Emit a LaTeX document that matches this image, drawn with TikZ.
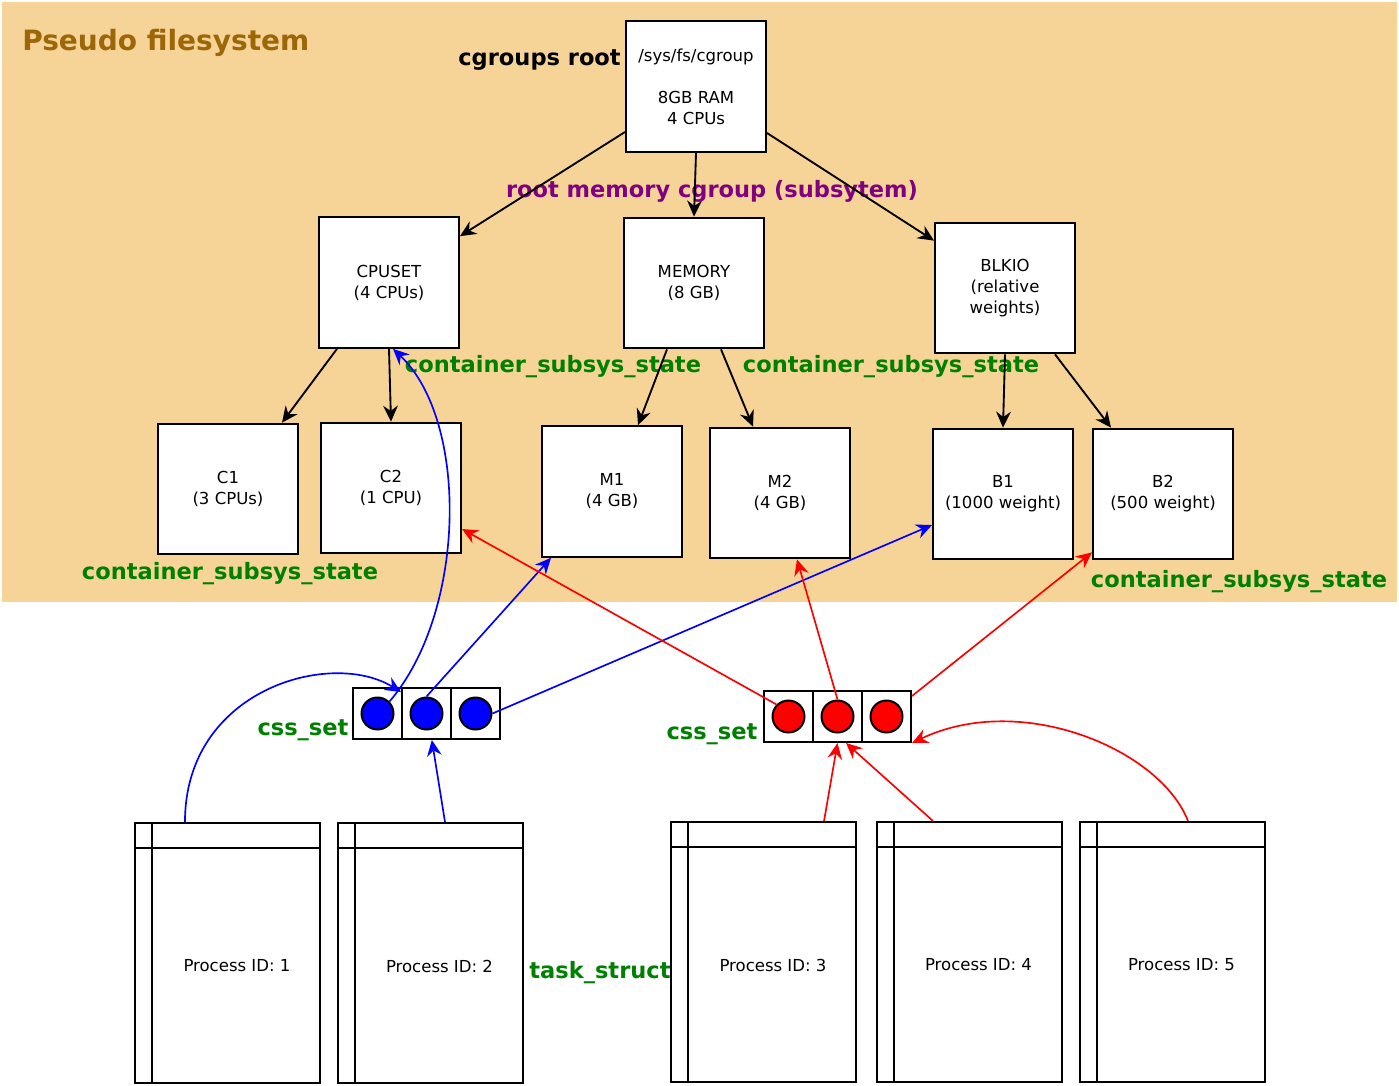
\documentclass[tikz,border=0pt]{standalone}
\usepackage{fontspec}
\setmainfont{DejaVu Sans}
\usetikzlibrary{arrows.meta}
\definecolor{fsBack}{RGB}{246,212,152}
\definecolor{fsTitle}{RGB}{157,103,8}
\definecolor{stateGreen}{RGB}{0,128,0}
\definecolor{rootPurple}{RGB}{128,0,128}
\newcommand{\smallText}{\fontsize{12.4}{15.8}\selectfont}
\newcommand{\labelText}{\fontsize{16.9}{20}\selectfont\bfseries}
\newcommand{\titleText}{\fontsize{21}{25}\selectfont\bfseries}

\begin{document}
\begin{tikzpicture}
[x=0.75pt,y=-0.75pt,
  boxDecorate/.style={shape=rectangle,draw,line width=1.5pt,fill=white,minimum width=105pt,minimum height=98pt,inner sep=0pt,align=center,font=\smallText},%
  procDecorate/.style={shape=rectangle,draw,line width=1.5pt,fill=white,minimum width=138.75pt,minimum height=195pt,inner sep=0pt},%
  cellDecorate/.style={shape=rectangle,draw,line width=1.5pt,fill=white,minimum width=36.75pt,minimum height=38.25pt,inner sep=0pt},%
  dotDecorate/.style={shape=circle,draw,line width=1.5pt,minimum size=24pt,inner sep=0pt},%
  lineDecorate/.style={-{Stealth[length=12pt,width=11pt,inset=4pt]},line width=1.4pt},%
  stateLabel/.style={text=stateGreen,font=\labelText,inner sep=0pt}]
%% background
\useasboundingbox (0,0) rectangle (1399,1085);
\fill[fsBack] (2,2) rectangle (1397,602);
\node (title) at (22,43) [anchor=west,text=fsTitle,font=\titleText,inner sep=0pt] {Pseudo filesystem};
%% cgroup boxes
\node (root) at (696,86.5) [boxDecorate,minimum height=98.25pt] {/sys/fs/cgroup\\~\\8GB RAM\\4 CPUs};
\foreach \nodename/\x/\y/\txt in {
  cpuset/389/282.5/{CPUSET\\(4 CPUs)}, memory/694/283/{MEMORY\\(8 GB)},
  blkio/1005/288/{BLKIO\\(relative\\weights)},
  c1/228/489/{C1\\(3 CPUs)}, c2/391/488/{C2\\(1 CPU)},
  m1/612/491.5/{M1\\(4 GB)}, m2/780/493/{M2\\(4 GB)},
  b1/1003/494/{B1\\(1000 weight)}, b2/1163/494/{B2\\(500 weight)}}
{
  \node (\nodename) at (\x,\y) [boxDecorate] {\txt};
}
%% labels
\node (rootlabel) at (621,60) [anchor=east,font=\labelText,inner sep=0pt] {cgroups root};
\node (memlabel) at (712,191) [text=rootPurple,font=\labelText,inner sep=0pt] {root memory cgroup (subsytem)};
\foreach \nodename/\x/\y/\txt in {
  state1/553/367/container\_subsys\_state, state2/891/367/container\_subsys\_state,
  state3/230/574/container\_subsys\_state, state4/1239/582/container\_subsys\_state,
  cssleft/303/730/css\_set, cssright/712/734/css\_set, task/600/973/task\_struct}
{
  \node (\nodename) at (\x,\y) [stateLabel] {\txt};
}
%% css_set cells
\foreach \nodename/\x/\y/\c in {
  lc1/377.5/713.5/blue, lc2/426.5/713.5/blue, lc3/475.5/713.5/blue,
  rc1/788.5/716.5/red, rc2/837.5/716.5/red, rc3/886.5/716.5/red}
{
  \node (\nodename) at (\x,\y) [cellDecorate] {};
  \node (\nodename dot) at (\nodename.center) [dotDecorate,fill=\c] {};
}
%% task_struct boxes
\foreach \nodename/\x/\y/\pid in {
  p1/227.5/953/1, p2/430/953/2, p3/763.5/952/3, p4/969/952/4, p5/1172/952/5}
{
  \node (\nodename) at (\x,\y) [procDecorate] {};
  \draw[line width=1.5pt] ([xshift=13.5pt]\nodename.north west) -- ([xshift=13.5pt]\nodename.south west);
  \draw[line width=1.5pt] ([yshift=-19.5pt]\nodename.north west) -- ([yshift=-19.5pt]\nodename.north east);
  \node (\nodename text) at ([xshift=7.1pt,yshift=-9.75pt]\nodename.center) [font=\smallText] {Process ID: \pid};
}
%% hierarchy
\draw[lineDecorate] ([yshift=15.75pt]root.south west) -- ([yshift=-15pt]cpuset.north east);
\draw[lineDecorate] (root.south) -- (memory.north);
\draw[lineDecorate] ([yshift=15pt]root.south east) -- ([yshift=-14.25pt]blkio.north west);
\draw[lineDecorate] ([xshift=14.25pt]cpuset.south west) -- ([xshift=-12.75pt]c1.north east);
\draw[lineDecorate] (cpuset.south) -- (c2.north);
\draw[lineDecorate] ([xshift=-20.25pt]memory.south) -- ([xshift=19.5pt]m1.north);
\draw[lineDecorate] ([xshift=20.25pt]memory.south) -- ([xshift=-20.25pt]m2.north);
\draw[lineDecorate] (blkio.south) -- (b1.north);
\draw[lineDecorate] ([xshift=37.5pt]blkio.south) -- ([xshift=-39pt]b2.north);
%% blue css_set
\draw[lineDecorate,blue,line width=1.25pt] (lc1dot.north east) .. controls +(77,-90) and +(76,72) .. ([xshift=3pt]cpuset.south);
\draw[lineDecorate,blue,line width=1.25pt] (lc2dot.north) -- ([xshift=7.5pt]m1.south west);
\draw[lineDecorate,blue,line width=1.25pt] (lc3dot.east) -- ([yshift=-23.25pt]b1.west);
\draw[lineDecorate,blue,line width=1.25pt] ([xshift=-31.9pt]p1.north) .. controls +(0,-133) and +(-70,-43) .. ([xshift=-1.5pt,yshift=-3.75pt]lc1.north east);
\draw[lineDecorate,blue,line width=1.25pt] ([xshift=11.25pt]p2.north) -- ([xshift=4pt]lc2.south);
%% red css_set
\draw[lineDecorate,red,line width=1.25pt] (rc1dot.north west) -- ([yshift=-30.75pt]c2.east);
\draw[lineDecorate,red,line width=1.25pt] (rc2dot.north) -- ([xshift=12.75pt]m2.south);
\draw[lineDecorate,red,line width=1.25pt] ([yshift=-4.5pt]rc3.north east) -- ([yshift=6pt]b2.south west);
\draw[lineDecorate,red,line width=1.25pt] ([xshift=45.4pt]p3.north) -- (rc2.south);
\draw[lineDecorate,red,line width=1.25pt] ([xshift=-27pt]p4.north) -- ([xshift=-12.75pt]rc2.south east);
\draw[lineDecorate,red,line width=1.25pt] ([xshift=12pt]p5.north) .. controls +(-28,-72) and +(109,-52) .. (rc3.south east);
\end{tikzpicture}
\end{document}
